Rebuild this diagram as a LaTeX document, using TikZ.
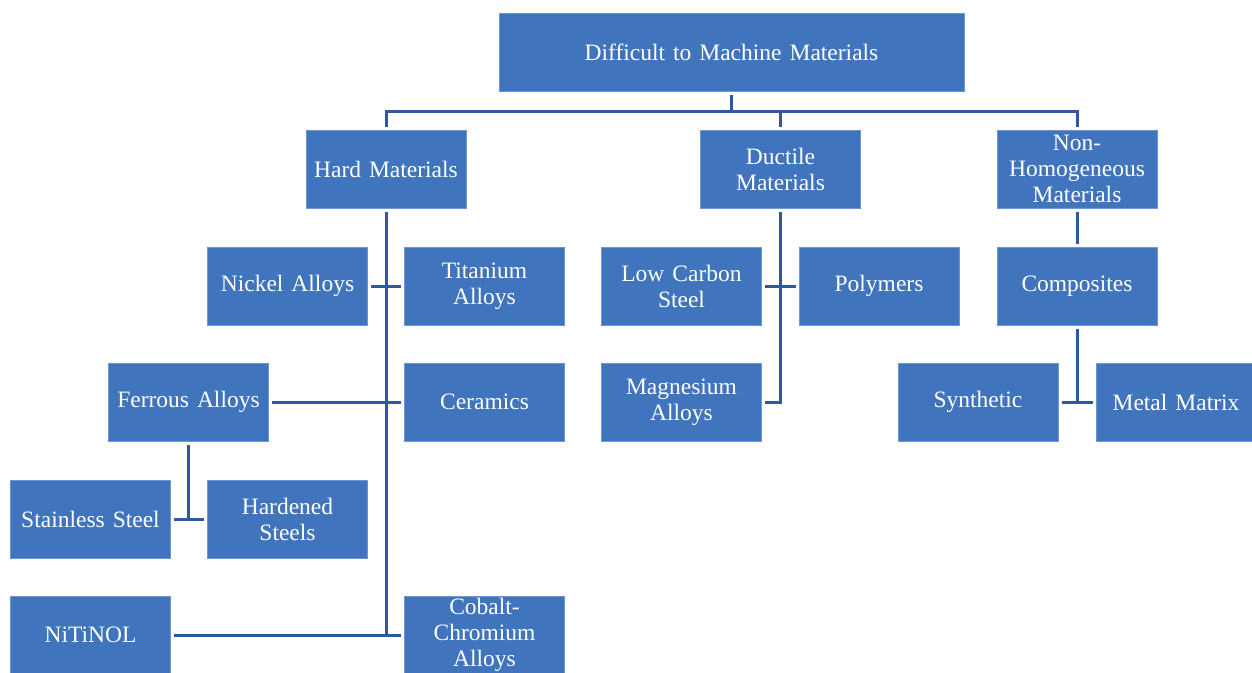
\documentclass[tikz,border=0pt]{standalone}
\usepackage{fontspec}
\setmainfont{Liberation Serif}
\definecolor{boxblue}{RGB}{64,117,190}
\definecolor{boxedge}{RGB}{110,150,210}
\definecolor{linkblue}{RGB}{48,88,158}
\newcommand{\boxfont}{\fontsize{23.5}{26}\selectfont\spaceskip=0.34em plus 0.1em\relax}
\tikzset{
  box/.style={rectangle, fill=boxblue, draw=boxedge, line width=0.6pt, text=white,
    minimum width=160pt, minimum height=78pt, inner sep=0pt, outer sep=3.5pt,
    align=center, font=\boxfont},
  link/.style={draw=linkblue, line width=3pt}
}
\begin{document}
\begin{tikzpicture}[x=1pt,y=-1pt]
\useasboundingbox (0,0) rectangle (1252,672);
\node[box, minimum width=465pt] (top) at (731.5,52) {Difficult to Machine Materials};
\node[box] (hard) at (386,169) {Hard Materials};
\node[box] (ductile) at (780.5,169) {Ductile\\Materials};
\node[box] (nonhom) at (1077,169) {Non-\\Homogeneous\\Materials};
\node[box] (nickel) at (287.5,286) {Nickel Alloys};
\node[box] (titanium) at (484.5,286) {Titanium\\Alloys};
\node[box] (ferrous) at (188.5,402) {Ferrous Alloys};
\node[box] (ceramics) at (484.5,402) {Ceramics};
\node[box] (stainless) at (90.5,519) {Stainless Steel};
\node[box] (hardened) at (287.5,519) {Hardened\\Steels};
\node[box] (nitinol) at (90.5,635) {NiTiNOL};
\node[box] (cobalt) at (484.5,635) {Cobalt-\\Chromium\\Alloys};
\node[box] (lowcarbon) at (681.5,286) {Low Carbon\\Steel};
\node[box] (polymers) at (879,286) {Polymers};
\node[box] (magnesium) at (681.5,402) {Magnesium\\Alloys};
\node[box] (composites) at (1077,286) {Composites};
\node[box] (synthetic) at (978,402) {Synthetic};
\node[box] (metal) at (1176,402) {Metal Matrix};
\coordinate (bus) at (731.5,111);
% top level
\draw[link] (top.south) -- (bus);
\draw[link] (hard.north) |- (bus) -| (nonhom.north);
\draw[link] (ductile.north) -- (ductile.north |- bus);
% hard materials
\draw[link] (hard.south) -- (hard.south |- nitinol.east);
\draw[link] (nickel.east) -- (titanium.west);
\draw[link] (ferrous.east) -- (ceramics.west);
\draw[link] (nitinol.east) -- (cobalt.west);
\draw[link] (ferrous.south) -- (ferrous.south |- stainless.east);
\draw[link] (stainless.east) -- (hardened.west);
% ductile
\draw[link] (ductile.south) |- (magnesium.east);
\draw[link] (lowcarbon.east) -- (polymers.west);
% non-homogeneous
\draw[link] (nonhom.south) -- (composites.north);
\draw[link] (composites.south) -- (composites.south |- synthetic.east);
\draw[link] (synthetic.east) -- (metal.west);
\end{tikzpicture}
\end{document}
